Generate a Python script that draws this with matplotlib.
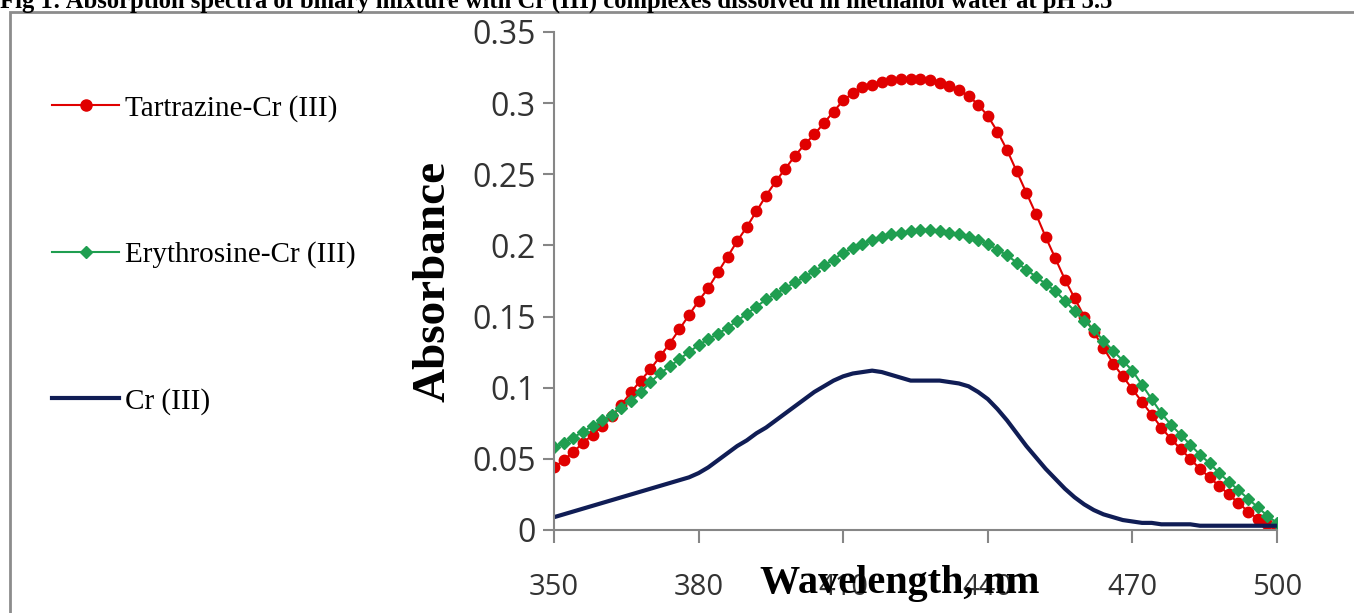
import matplotlib
matplotlib.use('Agg')
import matplotlib.pyplot as plt
from matplotlib.lines import Line2D
from matplotlib.patches import Rectangle
import numpy as np

# wavelength (nm), 2 nm steps
wavelength = list(range(350, 501, 2))

# Tartrazine-Cr (III)
tartrazine = [0.044, 0.049, 0.055, 0.061, 0.067, 0.073, 0.080, 0.088, 0.097, 0.105,
              0.113, 0.122, 0.131, 0.141, 0.151, 0.161, 0.170, 0.181, 0.192, 0.203,
              0.213, 0.224, 0.235, 0.245, 0.254, 0.263, 0.271, 0.278, 0.286, 0.294,
              0.302, 0.307, 0.311, 0.313, 0.315, 0.316, 0.317, 0.317, 0.317, 0.316,
              0.314, 0.312, 0.309, 0.305, 0.299, 0.291, 0.280, 0.267, 0.252, 0.237,
              0.222, 0.206, 0.191, 0.176, 0.163, 0.150, 0.139, 0.128, 0.117, 0.108,
              0.099, 0.090, 0.081, 0.072, 0.064, 0.057, 0.050, 0.043, 0.037, 0.031,
              0.025, 0.019, 0.013, 0.008, 0.004, 0.002]

# Erythrosine-Cr (III)
erythrosine = [0.058, 0.061, 0.065, 0.069, 0.073, 0.077, 0.081, 0.086, 0.091, 0.097,
               0.104, 0.110, 0.115, 0.120, 0.125, 0.130, 0.134, 0.138, 0.142, 0.147,
               0.152, 0.157, 0.162, 0.166, 0.170, 0.174, 0.178, 0.182, 0.186, 0.190,
               0.195, 0.198, 0.201, 0.204, 0.206, 0.208, 0.209, 0.210, 0.211, 0.211,
               0.210, 0.209, 0.208, 0.206, 0.204, 0.201, 0.197, 0.193, 0.188, 0.183,
               0.178, 0.173, 0.168, 0.161, 0.154, 0.147, 0.141, 0.133, 0.126, 0.119,
               0.112, 0.102, 0.092, 0.082, 0.074, 0.067, 0.060, 0.053, 0.047, 0.040,
               0.034, 0.028, 0.022, 0.016, 0.010, 0.005]

# Cr (III)
chromium = [0.009, 0.011, 0.013, 0.015, 0.017, 0.019, 0.021, 0.023, 0.025, 0.027,
            0.029, 0.031, 0.033, 0.035, 0.037, 0.040, 0.044, 0.049, 0.054, 0.059,
            0.063, 0.068, 0.072, 0.077, 0.082, 0.087, 0.092, 0.097, 0.101, 0.105,
            0.108, 0.110, 0.111, 0.112, 0.111, 0.109, 0.107, 0.105, 0.105, 0.105,
            0.105, 0.104, 0.103, 0.101, 0.097, 0.092, 0.085, 0.077, 0.068, 0.059,
            0.051, 0.043, 0.036, 0.029, 0.023, 0.018, 0.014, 0.011, 0.009, 0.007,
            0.006, 0.005, 0.005, 0.004, 0.004, 0.004, 0.004, 0.003, 0.003, 0.003,
            0.003, 0.003, 0.003, 0.003, 0.003, 0.003]

xticks = [350, 380, 410, 440, 470, 500]
yticks = [0, 0.05, 0.1, 0.15, 0.2, 0.25, 0.3, 0.35]
ytick_labels = ['0', '0.05', '0.1', '0.15', '0.2', '0.25', '0.3', '0.35']

red = '#e00000'
green = '#1f9e50'
navy = '#101d55'
grey = '#868686'

fig = plt.figure(figsize=(13.54, 6.13), dpi=100)
ax = fig.add_axes([554 / 1354, 1 - 530 / 613, 723 / 1354, 498 / 613])

ax.plot(wavelength, tartrazine, color=red, lw=1.5, marker='o', ms=7.5, mec=red)
ax.plot(wavelength, erythrosine, color=green, lw=1.5, marker='D', ms=5.8, mec=green)
ax.plot(wavelength, chromium, color=navy, lw=3, solid_capstyle='round')

ax.set_xlim(350, 500)
ax.set_ylim(0, 0.35)
ax.set_xticks(xticks)
ax.set_yticks(yticks)
ax.set_yticklabels(ytick_labels)

for s in ['top', 'right']:
    ax.spines[s].set_visible(False)
for s in ['left', 'bottom']:
    ax.spines[s].set_color(grey)
    ax.spines[s].set_linewidth(1.5)

ax.tick_params(axis='both', colors=grey, labelcolor='#333333', width=1.5)
ax.tick_params(axis='x', length=9, pad=22, labelsize=21)
ax.tick_params(axis='y', length=8, pad=5, labelsize=23)
for lab in ax.get_xticklabels() + ax.get_yticklabels():
    lab.set_family('Open Sans')

ax.set_xlabel('Wavelength, nm', family='Liberation Serif', weight='bold',
              fontsize=29)
ax.xaxis.set_label_coords(0.478, -0.07)
ax.set_ylabel('Absorbance', family='Liberation Serif', weight='bold',
              fontsize=34)
ax.yaxis.set_label_coords(-0.137, 0.5)

handles = [
    Line2D([], [], color=red, lw=1.5, marker='o', ms=8),
    Line2D([], [], color=green, lw=1.5, marker='D', ms=6),
    Line2D([], [], color=navy, lw=3),
]
labels = ['Tartrazine-Cr (III)', 'Erythrosine-Cr (III)', 'Cr (III)']
fig.legend(handles, labels, loc='center left', bbox_to_anchor=(52 / 1354, 1 - 255 / 613),
           frameon=False, numpoints=1, handlelength=2.3, handletextpad=0.2,
           labelspacing=4.1, borderpad=0, borderaxespad=0,
           prop={'family': 'Liberation Serif', 'size': 21})

# outer frame and cut-off caption
fig.patches.append(Rectangle((10 / 1354, -0.01), 1.0, 1 - 12 / 613 + 0.01,
                             transform=fig.transFigure, fill=False,
                             edgecolor='#8c8c8c', lw=2))
fig.text(0.0, 1 - 8 / 613,
         'Fig 1: Absorption spectra of binary mixture with Cr (III) complexes '
         'dissolved in methanol water at pH 5.5',
         family='Liberation Serif', weight='bold', fontsize=17.7, va='baseline')

fig.savefig('out.png', dpi=100, facecolor='white')
